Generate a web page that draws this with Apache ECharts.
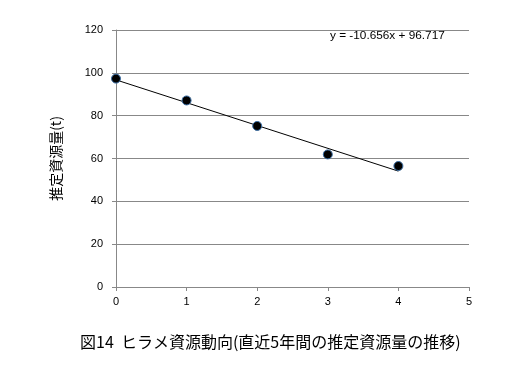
<!DOCTYPE html>
<html><head><meta charset="utf-8">
<script src="https://cdn.jsdelivr.net/npm/echarts@6/dist/echarts.min.js"></script>
<style>html,body{margin:0;padding:0;background:#fff}#c{width:517px;height:385px}</style>
</head><body><div id="c"></div>
<script>
const xValues = [0, 1, 2, 3, 4];
const yValues = [97.3, 87.1, 75.2, 61.9, 56.5];
const trendSlope = -10.656;
const trendIntercept = 96.717;
const trendX = [0, 4];
const equationText = 'y = -10.656x + 96.717';
const yAxisName = '推定資源量(t)';
const titleText = '図14  ヒラメ資源動向(直近5年間の推定資源量の推移)';

const points = xValues.map((x, i) => [x, yValues[i]]);
const trend = trendX.map(x => [x, trendIntercept + trendSlope * x]);

const chart = echarts.init(document.getElementById('c'), null, {renderer: 'canvas'});
chart.setOption({
  animation: false,
  backgroundColor: '#fff',
  textStyle: {fontFamily: '"Noto Sans CJK JP", "Liberation Sans", sans-serif'},
  title: {
    text: titleText, left: 75, top: 329,
    textStyle: {fontSize: 16, fontWeight: 'normal', color: '#000', fontFamily: '"Noto Sans CJK JP", sans-serif'}
  },
  graphic: [{
    type: 'text', left: 330, top: 30,
    style: {text: equationText, fontSize: 11.8, fill: '#000', fontFamily: '"Liberation Sans", sans-serif'}
  }],
  grid: {left: 116, right: 48, top: 30, bottom: 98, containLabel: false},
  xAxis: {
    type: 'value', min: 0, max: 5, interval: 1,
    axisLine: {show: true, onZero: false, lineStyle: {color: '#888', width: 1}},
    axisTick: {show: true, length: 4, lineStyle: {color: '#888'}},
    axisLabel: {color: '#000', fontSize: 11, margin: 9, fontFamily: '"Liberation Sans", sans-serif'},
    splitLine: {show: false}
  },
  yAxis: {
    type: 'value', min: 0, max: 120, interval: 20,
    name: yAxisName, nameLocation: 'middle', nameGap: 53, nameRotate: 90,
    nameTextStyle: {fontSize: 14, color: '#000', fontFamily: '"Noto Sans CJK JP", sans-serif'},
    axisLine: {show: true, lineStyle: {color: '#888', width: 1}},
    axisTick: {show: true, length: 4, lineStyle: {color: '#888'}},
    axisLabel: {color: '#000', fontSize: 11, margin: 13, fontFamily: '"Liberation Sans", sans-serif'},
    splitLine: {show: true, lineStyle: {color: '#888', width: 1}}
  },
  series: [
    {
      type: 'line', data: trend, showSymbol: false, symbol: 'none',
      lineStyle: {color: '#000', width: 1}, z: 2
    },
    {
      type: 'scatter', data: points, symbol: 'circle', symbolSize: 9,
      itemStyle: {color: '#000', borderColor: '#3a6ea5', borderWidth: 1, opacity: 1}, z: 3
    }
  ]
});
</script>
</body></html>
